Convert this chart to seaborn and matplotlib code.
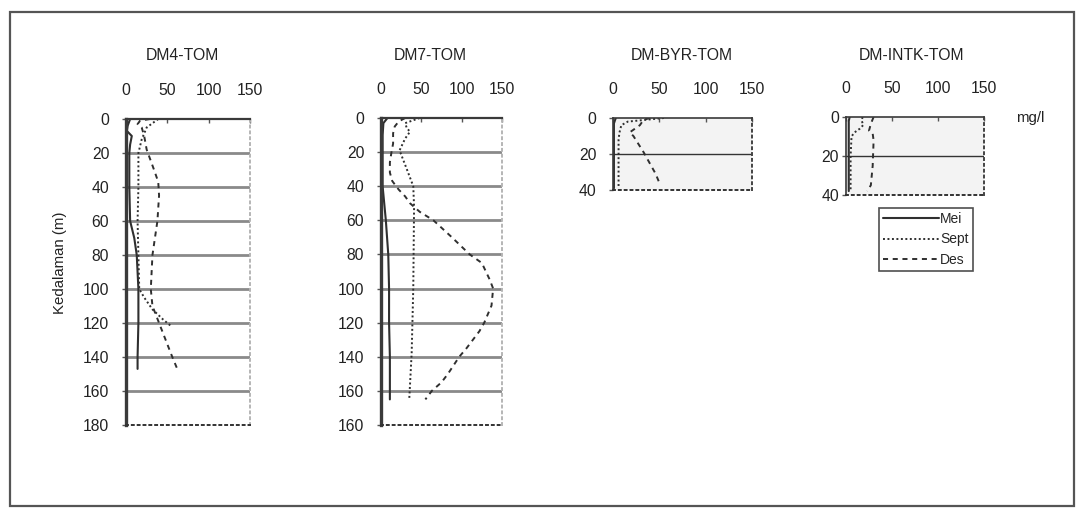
import matplotlib
matplotlib.use("Agg")
import matplotlib.pyplot as plt
from matplotlib.patches import Rectangle
from matplotlib.lines import Line2D
import seaborn as sns
import pandas as pd

# ---- data: total organic matter (mg/l) by depth (m) ----
months = ["Mei", "Sept", "Des"]
x_ticks = [0, 50, 100, 150]

dm4_mei_depth = [0, 4, 7, 10, 15, 20, 40, 60, 70, 80, 100, 120, 140, 147]
dm4_mei = [5, 2, 1, 7, 5, 4, 4, 5, 10, 13, 15, 15, 14, 14]
dm4_sept_depth = [0, 5, 12, 18, 20, 40, 60, 80, 100, 105, 112, 118, 122]
dm4_sept = [39, 25, 19, 16, 15, 15, 14, 15, 16, 22, 32, 45, 55]
dm4_des_depth = [0, 1, 3, 5, 10, 18, 30, 37, 45, 60, 80, 100, 110, 120, 130, 140, 147]
dm4_des = [29, 17, 14, 19, 22, 25, 34, 39, 40, 38, 32, 30, 32, 40, 48, 56, 62]

dm7_mei_depth = [0, 3, 10, 40, 60, 80, 100, 120, 140, 165]
dm7_mei = [8, 3, 2, 2, 6, 9, 10, 10, 11, 11]
dm7_sept_depth = [0, 3, 6, 8, 12, 19, 30, 40, 52, 100, 138, 165]
dm7_sept = [48, 30, 32, 36, 30, 23, 32, 40, 41, 40, 38, 35]
dm7_des_depth = [0, 2, 5, 9, 15, 20, 26, 32, 37, 42, 46, 50, 55, 60, 70, 80, 85,
                 95, 100, 110, 120, 125, 135, 140, 150, 155, 160, 165]
dm7_des = [30, 22, 17, 15, 15, 13, 11, 11, 14, 22, 30, 36, 48, 65, 88, 110, 125,
           135, 139, 137, 128, 122, 106, 97, 83, 75, 63, 55]

byr_mei_depth = [0, 3, 8, 20, 39]
byr_mei = [3, 1, 1, 1, 1]
byr_sept_depth = [0, 2, 4, 8, 12, 20, 39]
byr_sept = [55, 16, 9, 7, 6, 6, 6]
byr_des_depth = [0, 1, 4, 8, 10, 19, 31, 36]
byr_des = [40, 33, 29, 18, 22, 33, 46, 50]

intk_mei_depth = [0, 2, 10, 20, 38]
intk_mei = [4, 3, 3, 3, 3]
intk_sept_depth = [0, 2, 4, 6, 8, 10, 20, 38]
intk_sept = [18, 17, 19, 15, 9, 6, 5, 5]
intk_des_depth = [0, 3.5, 7, 8.5, 12, 25, 35, 38]
intk_des = [30, 27, 25, 29, 30, 29, 27, 23]

dm4_y_ticks = [0, 20, 40, 60, 80, 100, 120, 140, 160, 180]
dm4_y_labels = ["0", "20", "40", "60", "80", "100", "120", "140", "160", "180"]
dm7_y_ticks = [0, 20, 40, 60, 80, 100, 120, 140, 160, 180]
dm7_y_labels = ["0", "20", "40", "60", "80", "100", "120", "140", "160", "160"]
short_y_ticks = [0, 20, 40]
short_y_labels = ["0", "20", "40"]

titles = ["DM4-TOM", "DM7-TOM", "DM-BYR-TOM", "DM-INTK-TOM"]

stations = [
    [(dm4_mei_depth, dm4_mei), (dm4_sept_depth, dm4_sept), (dm4_des_depth, dm4_des)],
    [(dm7_mei_depth, dm7_mei), (dm7_sept_depth, dm7_sept), (dm7_des_depth, dm7_des)],
    [(byr_mei_depth, byr_mei), (byr_sept_depth, byr_sept), (byr_des_depth, byr_des)],
    [(intk_mei_depth, intk_mei), (intk_sept_depth, intk_sept), (intk_des_depth, intk_des)],
]
y_ticks = [dm4_y_ticks, dm7_y_ticks, short_y_ticks, short_y_ticks]
y_labels = [dm4_y_labels, dm7_y_labels, short_y_labels, short_y_labels]

# ---- styling ----
sns.set_theme(style="white")
plt.rcParams["font.family"] = ["Liberation Sans", "DejaVu Sans"]

W, H = 1081, 509
fig = plt.figure(figsize=(W / 100, H / 100), dpi=100)
fig.patch.set_facecolor("white")

ink = "#2f2f2f"
txt = "#222222"
fs = 11.3
line_styles = {
    "Mei": dict(linestyle="-", lw=1.5),
    "Sept": dict(linestyle=(0, (1, 1.3)), lw=1.4),
    "Des": dict(linestyle=(0, (2.6, 2.4)), lw=1.4),
}

# axes boxes in pixels: left, right, top, bottom
boxes = [(126, 250, 119, 425), (381, 502, 118, 425),
         (613, 752, 118, 190), (846, 984, 117, 195)]
title_x = [182, 430, 682, 912]
ylabel_pad = [9, 9, 9, 2]


def px_axes(l, r, t, b):
    return fig.add_axes([l / W, 1 - b / H, (r - l) / W, (b - t) / H])


for i, (box, series) in enumerate(zip(boxes, stations)):
    ax = px_axes(*box)
    short = i >= 2
    ax.set_facecolor("#f3f3f3" if short else "white")

    for month, (depth, val) in zip(months, series):
        df = pd.DataFrame({"depth": depth, "tom": val})
        sns.lineplot(data=df, x="tom", y="depth", orient="y", sort=False,
                     estimator=None, color=ink, ax=ax, **line_styles[month])

    ymax = y_ticks[i][-1]
    ax.set_xlim(0, 150)
    ax.set_ylim(ymax, 0)

    # horizontal grid
    for yv in y_ticks[i][1:-1]:
        if short:
            ax.axhline(yv, color="#333333", lw=1.0, zorder=0)
        else:
            ax.axhline(yv, color="#8a8a8a", lw=2.0, zorder=0)

    ax.xaxis.tick_top()
    ax.set_xticks(x_ticks)
    ax.set_xticklabels([str(v) for v in x_ticks])
    ax.set_yticks(y_ticks[i])
    ax.set_yticklabels(y_labels[i])
    ax.tick_params(axis="x", which="both", direction="in", length=3, width=1,
                   color="#555555", pad=15, labelsize=fs, labelcolor=txt,
                   top=True, bottom=False)
    ax.tick_params(axis="y", direction="out", length=3, width=1, color="#555555",
                   pad=ylabel_pad[i], labelsize=fs, labelcolor=txt, left=True)
    ax.set_xlabel("")
    ax.set_ylabel("")
    ax.grid(False)

    # frame: solid top/left, dotted right/bottom
    ax.spines["top"].set_color("#3a3a3a")
    ax.spines["top"].set_linewidth(1.6 if not short else 1.2)
    ax.spines["left"].set_color("#3a3a3a")
    ax.spines["left"].set_linewidth(2.4 if not short else 1.2)
    ax.spines["bottom"].set_color("#333333")
    ax.spines["bottom"].set_linestyle((0, (1, 2)))
    ax.spines["bottom"].set_linewidth(1.4)
    ax.spines["right"].set_color("#b5b5b5" if not short else "#444444")
    ax.spines["right"].set_linestyle((0, (1, 2)))
    ax.spines["right"].set_linewidth(1.4)

    fig.text(title_x[i] / W, 1 - 55 / H, titles[i], ha="center", va="center",
             fontsize=fs, color=txt)

fig.text(60 / W, 1 - 263 / H, "Kedalaman (m)", rotation=90, ha="center",
         va="center", fontsize=10.8, color=txt)
fig.text(1016 / W, 1 - 118 / H, "mg/l", ha="left", va="center",
         fontsize=10.8, color=txt)

handles = [Line2D([], [], color=ink, **line_styles[m]) for m in months]
leg = fig.legend(handles, months, loc="upper left",
                 bbox_to_anchor=(879 / W, 1 - 208 / H), frameon=True,
                 fancybox=False, fontsize=10, handlelength=4.0,
                 handletextpad=0.1, borderpad=0.3, labelspacing=0.45,
                 borderaxespad=0)
leg.get_frame().set_edgecolor("#222222")
leg.get_frame().set_linewidth(1.2)

# outer chart frame
fig.patches.append(Rectangle((10 / W, 3 / H), (1074 - 10) / W, (497 - 3) / H,
                             transform=fig.transFigure, fill=False,
                             edgecolor="#555555", lw=1.6))

fig.savefig("out.png", dpi=100)
